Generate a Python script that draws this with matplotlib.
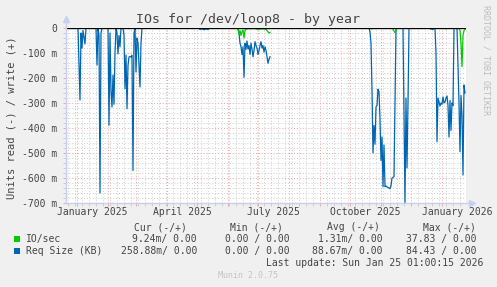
import numpy as np
import pandas as pd
import matplotlib
matplotlib.use("Agg")
import matplotlib.pyplot as plt
import matplotlib.dates as mdates
from matplotlib.lines import Line2D
from matplotlib.patches import Rectangle
from matplotlib.ticker import FixedLocator, FuncFormatter
import matplotlib.transforms as mtransforms

# ---------------- data (days since 2024-12-21, values in milli-units, read side) ----------------
START = "2024-12-21"
SPAN_DAYS = 400

req_day = [0, 12, 14, 15, 16, 17, 19, 20, 30, 31, 32, 33, 34, 35, 36, 42, 43, 44, 45, 46, 47, 48, 49, 50,
           51, 52, 53, 54, 55, 57, 58, 59, 60, 61, 62, 63, 64, 65, 66, 67, 68, 69, 70, 71, 72, 73, 74, 75, 76,
           133, 134, 136, 138, 140, 142, 144,
           172, 173, 174, 175, 176, 177, 178, 179, 180, 181, 182, 183, 184, 185, 186, 187, 188, 189, 190, 191,
           192, 193, 194, 195, 196, 197, 198, 199, 200, 201, 202, 203, 204, 205,
           303, 304, 305, 306, 307, 308, 309, 310, 311, 312, 313, 314, 315, 316, 317, 318, 319, 320, 321, 322,
           323, 324, 325, 326, 327, 328, 329, 330,
           337, 339, 340, 341, 342, 343,
           364, 365, 366, 367, 368,
           369, 370, 371, 372, 373, 374, 375, 376, 377, 378, 379, 380, 381, 382, 383, 384, 385, 386, 387, 388,
           391, 392, 393, 394, 395, 396, 397, 398, 399]
req_val = [0, 0, -288, -20, -80, -10, -64, 0, 0, -148, 0, -30, -660, -20, 0, 0, -389, -20, -250, -316, -188, -305, -100, 0,
           -20, -103, -30, -76, 0, 0, -30, -243, -108, -323, -150, -116, -114, -116, -110, -570, -20, 0, -176, -40, -60, -150, -236, -60, 0,
           0, -6, -3, -7, -4, -6, 0,
           0, -20, -60, -75, -106, -75, -197, -61, -85, -52, -84, -70, -106, -61, -85, -115,
           -90, -55, -70, -80, -106, -90, -70, -55, -80, -70, -97, -75, -90, -115, -141, -125, -115, np.nan,
           0, -15, -60, -250, -500, -390, -465, -316, -310, -245, -255, -365, -530, -436, -635, -468, -635, -632, -636, -638,
           -640, -643, -632, -600, -597, -595, -300, 0,
           0, -699, -280, -560, -300, 0,
           0, -5, -3, -6, 0,
           0, -100, -455, -280, -296, -312, -300, -305, -276, -300, -296, -280, -272, -310, -436, -290, -410, -300, -310, 0,
           0, -150, -300, -495, -270, -350, -588, -228, -260]

io_day = [0, 171, 172, 173, 174, 175, 176, 177, 178, 179, 180, 182, 184, 188, 192, 197, 200, 202, 203, 204, 205,
          303, 305, 307, 309, 326, 327, 328, 329, 330, 331, 378, 380, 381,
          393, 394, 395, 396, 397, 398, 399]
io_val = [0, 0, -5, -25, -10, -30, -15, -8, -40, -10, -5, -2, -3, -2, -5, -3, -5, -15, -20, -18, np.nan,
          0, -3, -2, 0, 0, -5, -12, -18, -10, 0, 0, -4, 0,
          0, -10, -60, -155, -30, -10, -5]

xlabel_names = ["January 2025", "April 2025", "July 2025", "October 2025", "January 2026"]
xlabel_dates = ["2025-01-16", "2025-04-16", "2025-07-16", "2025-10-16", "2026-01-16"]

series_names = ["IO/sec", "Req Size (KB)"]
cur_txt = ["9.24m/ 0.00", "258.88m/ 0.00"]
min_txt = ["0.00 / 0.00", "0.00 / 0.00"]
avg_txt = ["1.31m/ 0.00", "88.67m/ 0.00"]
max_txt = ["37.83 / 0.00", "84.43 / 0.00"]

# ---------------- figure ----------------
W, H = 497, 287
fig = plt.figure(figsize=(W / 100, H / 100), dpi=100, facecolor="#F0F0F0")
MONO = "DejaVu Sans Mono"
TXT = "#444444"

def fx(x):
    return x / W

def fy(y):
    return 1 - y / H

ax = fig.add_axes([fx(66), fy(203), 400 / W, 175 / H], facecolor="white")

start = pd.Timestamp(START)
end = start + pd.Timedelta(days=SPAN_DAYS)
bx = start + pd.to_timedelta(req_day, unit="D")
gx = start + pd.to_timedelta(io_day, unit="D")

ax.plot(bx, req_val, color="#0066B3", lw=0.9, zorder=3)
ax.plot(gx, io_val, color="#00CC00", lw=0.9, zorder=4)
ax.axhline(0, color="black", lw=1.0, zorder=5)

ax.set_xlim(start, end)
ax.set_ylim(-700, 0)

# grid
RED = "#EBA6A6"
GRAY = "#CDCDCD"
ax.yaxis.set_major_locator(FixedLocator(np.arange(-700, 1, 100)))
ax.yaxis.set_minor_locator(FixedLocator(np.arange(-700, 1, 20)))
ax.yaxis.set_major_formatter(FuncFormatter(lambda v, p: "0" if abs(v) < 1e-9 else f"{int(round(v))} m"))
ax.xaxis.set_major_locator(mdates.MonthLocator())
ax.xaxis.set_minor_locator(mdates.WeekdayLocator(byweekday=mdates.MO))
ax.xaxis.set_major_formatter(plt.NullFormatter())

ax.grid(which="minor", color=GRAY, lw=0.7, ls=(0, (1, 2)), zorder=1)
ax.grid(which="major", color=RED, lw=0.7, ls=(0, (1, 2)), zorder=2)
ax.set_axisbelow(True)

ax.tick_params(axis="both", which="major", length=2.5, width=0.7, color=RED, direction="out")
ax.tick_params(axis="both", which="minor", length=2.5, width=0.7, color=GRAY, direction="out")
ax.tick_params(axis="y", which="major", labelsize=7, labelcolor=TXT, pad=4)
for lab in ax.get_yticklabels():
    lab.set_fontfamily(MONO)

# x labels centred mid-month
trans = mtransforms.blended_transform_factory(ax.transData, fig.transFigure)
for name, d in zip(xlabel_names, xlabel_dates):
    ax.text(pd.Timestamp(d), fy(212), name, transform=trans, ha="center", va="center",
            fontsize=7, family=MONO, color=TXT)

# axes lines with arrows
for s in ax.spines.values():
    s.set_visible(False)
AX = "#C9CFF2"
ax.add_line(Line2D([0, 0], [0, 1.05], transform=ax.transAxes, color=AX, lw=1, clip_on=False, zorder=6))
ax.add_line(Line2D([0, 1.015], [0, 0], transform=ax.transAxes, color=AX, lw=1, clip_on=False, zorder=6))
ax.plot([0], [1.05], marker="^", ms=4, color=AX, transform=ax.transAxes, clip_on=False, zorder=6)
ax.plot([1.015], [0], marker=">", ms=4, color=AX, transform=ax.transAxes, clip_on=False, zorder=6)

# titles
fig.text(fx(248), fy(19), "IOs for /dev/loop8 - by year", ha="center", va="center",
         fontsize=9.5, family=MONO, color=TXT)
fig.text(fx(12), fy(118), "Units read (-) / write (+)", rotation=90, ha="center", va="center",
         fontsize=7.5, family=MONO, color=TXT)
fig.text(fx(486), fy(60), "RRDTOOL / TOBI OETIKER", rotation=270, ha="center", va="center",
         fontsize=6, family=MONO, color="#BDBDBD")

# legend
hdr_y = fy(227)
for t, xe in zip(["Cur (-/+)", "Min (-/+)", "Avg (-/+)", "Max (-/+)"], [187, 283, 380, 476]):
    fig.text(fx(xe), hdr_y, t, ha="right", va="center", fontsize=7, family=MONO, color=TXT)

colors = ["#00CC00", "#0066B3"]
rows_y = [239, 251]
for i in range(2):
    y = rows_y[i]
    fig.add_artist(Rectangle((fx(14), fy(y + 3)), 6 / W, 6 / H, transform=fig.transFigure,
                             facecolor=colors[i], edgecolor="none"))
    fig.text(fx(26), fy(y), series_names[i], ha="left", va="center", fontsize=7, family=MONO, color=TXT)
    for t, xe in zip([cur_txt[i], min_txt[i], avg_txt[i], max_txt[i]], [197, 290, 383, 477]):
        fig.text(fx(xe), fy(y), t, ha="right", va="center", fontsize=7, family=MONO, color=TXT)

fig.text(fx(483), fy(263), "Last update: Sun Jan 25 01:00:15 2026", ha="right", va="center",
         fontsize=7, family=MONO, color=TXT)
fig.text(fx(248), fy(276), "Munin 2.0.75", ha="center", va="center", fontsize=6, family=MONO, color="#C4C4C4")

fig.savefig("out.png", dpi=100, facecolor=fig.get_facecolor())
